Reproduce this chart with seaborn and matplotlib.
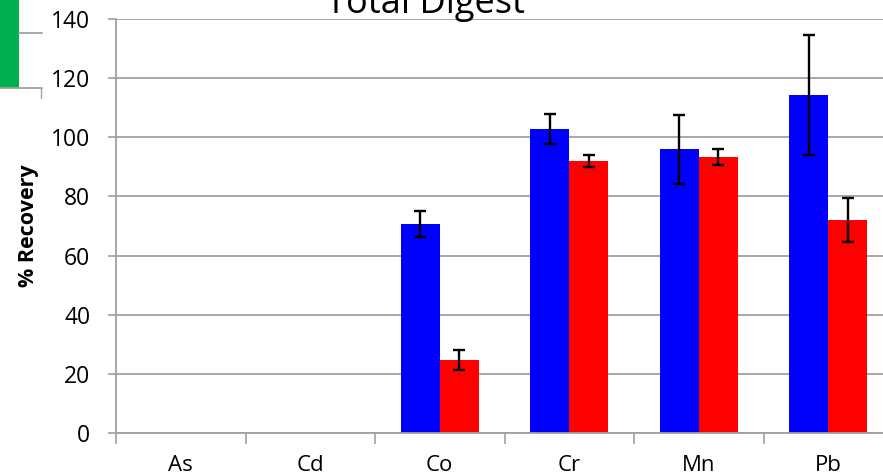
import matplotlib
matplotlib.use("Agg")
import matplotlib.pyplot as plt
import seaborn as sns
import pandas as pd
import numpy as np
from matplotlib.patches import Rectangle
from matplotlib.lines import Line2D

categories = ["As", "Cd", "Co", "Cr", "Mn", "Pb"]
series_names = ["Series A", "Series B"]
blue_values = [0, 0, 70.7, 102.8, 96.0, 114.3]
red_values = [0, 0, 24.7, 92.0, 93.3, 72.0]
blue_err = [0, 0, 4.5, 5.2, 11.7, 20.2]
red_err = [0, 0, 3.5, 2.0, 2.8, 7.4]
y_ticks = [0, 20, 40, 60, 80, 100, 120, 140]

sns.set_theme(style="white")
plt.rcParams['font.family'] = ['Open Sans', 'DejaVu Sans']
plt.rcParams['text.color'] = 'black'
plt.rcParams['xtick.color'] = 'black'
plt.rcParams['ytick.color'] = 'black'
plt.rcParams['axes.labelcolor'] = 'black'

df = pd.DataFrame({
    "element": categories * 2,
    "series": [series_names[0]] * len(categories) + [series_names[1]] * len(categories),
    "value": blue_values + red_values,
})

fig = plt.figure(figsize=(8.83, 4.76), dpi=100)
W, H = 883, 476
ax = fig.add_axes([116 / W, 43 / H, (893 - 116) / W, (433 - 19) / H])

sns.barplot(data=df, x="element", y="value", hue="series", order=categories,
            hue_order=series_names, palette=["#0000ff", "#ff0000"],
            width=0.6, errorbar=None, legend=False, ax=ax, saturation=1,
            edgecolor="none", linewidth=0)

n = len(categories)
patches = [p for p in ax.patches if isinstance(p, Rectangle)]
errs = blue_err + red_err
vals = blue_values + red_values
for p, v, e in zip(patches[:2 * n], vals, errs):
    if e > 0:
        ax.errorbar(p.get_x() + p.get_width() / 2, v, yerr=e, fmt="none",
                    ecolor="black", elinewidth=1.7, capsize=4.5, capthick=1.7,
                    zorder=5)

ax.set_ylim(0, 140)
ax.set_xlim(-0.5, n - 0.5)
ax.set_yticks(y_ticks)
ax.set_yticklabels([str(t) for t in y_ticks], fontsize=16.5)
ax.yaxis.grid(True, color="#a0a0a0", linewidth=1.3)
ax.set_axisbelow(True)

ax.set_xticks(np.arange(-0.5, n, 1.0))
ax.set_xticklabels([""] * (n + 1))
ax.set_xticks(np.arange(n), minor=True)
ax.set_xticklabels(categories, minor=True, fontsize=16)
ax.tick_params(axis="x", which="major", direction="out", length=8, width=1.2,
               color="#a0a0a0", bottom=True)
ax.tick_params(axis="x", which="minor", length=0, pad=16)
ax.tick_params(axis="y", direction="out", length=6, width=1.2, color="#a0a0a0",
               left=True, pad=12.5)

for s in ["top", "right"]:
    ax.spines[s].set_visible(False)
for s in ["left", "bottom"]:
    ax.spines[s].set_color("#a0a0a0")
    ax.spines[s].set_linewidth(1.3)

ax.set_xlabel("")
ax.set_ylabel("% Recovery", fontsize=15.5, fontweight="bold", labelpad=8.5)

fig.text(426 / W, 1 - 13 / H, "Total Digest", fontsize=26, ha="center",
         va="baseline")

# cropped legend fragment at top-left
fig.patches.append(Rectangle((0, 1 - 88 / H), 19 / W, 88 / H,
                             transform=fig.transFigure, facecolor="#00b050",
                             edgecolor="none"))
fig.lines.append(Line2D([19 / W, 42 / W], [1 - 33 / H, 1 - 33 / H],
                        transform=fig.transFigure, color="#a0a0a0", lw=1.3))
fig.lines.append(Line2D([0, 42 / W], [1 - 88 / H, 1 - 88 / H],
                        transform=fig.transFigure, color="#a0a0a0", lw=1.3))
fig.lines.append(Line2D([41 / W, 41 / W], [1 - 88 / H, 1 - 98 / H],
                        transform=fig.transFigure, color="#a0a0a0", lw=1.0))

fig.savefig("out.png", dpi=100)
